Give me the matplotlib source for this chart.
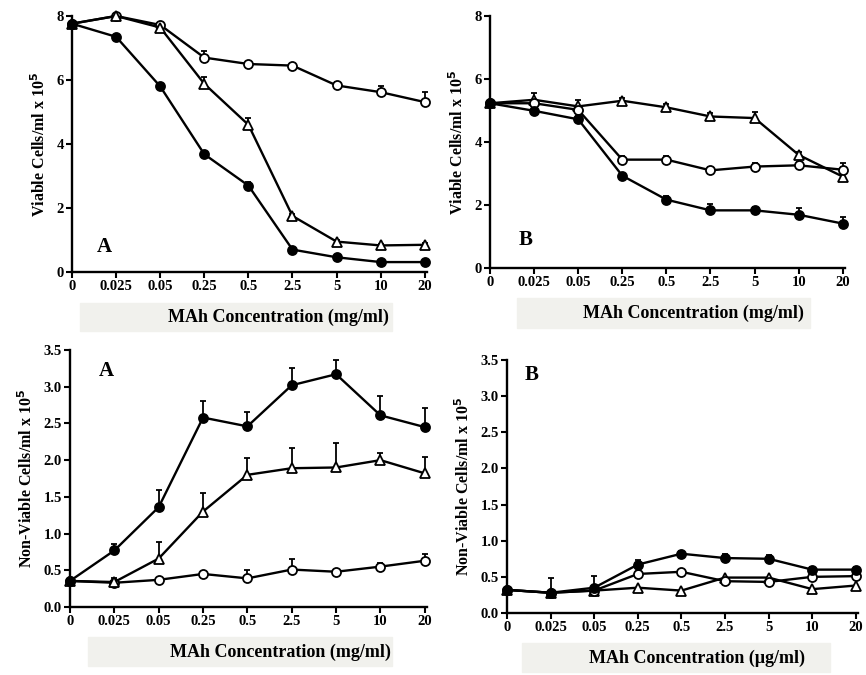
import matplotlib
matplotlib.use("Agg")
import matplotlib.pyplot as plt
from matplotlib.patches import Rectangle

plt.rcParams['font.family'] = ['Liberation Serif', 'DejaVu Serif']
plt.rcParams['font.weight'] = 'bold'

conc_labels = ["0", "0.025", "0.05", "0.25", "0.5", "2.5", "5", "10", "20"]

# A - viable cells
a_viable_filled = [7.76, 7.35, 5.8, 3.68, 2.7, 0.7, 0.46, 0.31, 0.31]
a_viable_circle = [7.76, 8.0, 7.72, 6.7, 6.5, 6.45, 5.83, 5.62, 5.31]
a_viable_tri = [7.76, 8.0, 7.64, 5.88, 4.6, 1.75, 0.95, 0.83, 0.85]
a_viable_filled_err = [0, 0.05, 0.05, 0.1, 0.1, 0.05, 0.05, 0.05, 0.05]
a_viable_circle_err = [0, 0, 0, 0.2, 0.05, 0.05, 0.1, 0.2, 0.3]
a_viable_tri_err = [0, 0, 0.1, 0.2, 0.2, 0.05, 0.05, 0.05, 0.05]

# B - viable cells
b_viable_filled = [5.23, 4.99, 4.72, 2.93, 2.17, 1.83, 1.83, 1.69, 1.41]
b_viable_circle = [5.23, 5.23, 5.02, 3.44, 3.44, 3.1, 3.22, 3.26, 3.12]
b_viable_tri = [5.23, 5.34, 5.13, 5.31, 5.1, 4.81, 4.76, 3.59, 2.9]
b_viable_filled_err = [0, 0.1, 0.1, 0.1, 0.1, 0.2, 0.1, 0.2, 0.2]
b_viable_circle_err = [0, 0.1, 0.1, 0.1, 0.1, 0.1, 0.1, 0.1, 0.2]
b_viable_tri_err = [0, 0.2, 0.2, 0.1, 0.1, 0.1, 0.2, 0.1, 0.3]

# A - non-viable cells
a_dead_filled = [0.355, 0.77, 1.36, 2.58, 2.46, 3.02, 3.17, 2.61, 2.45]
a_dead_tri = [0.355, 0.34, 0.66, 1.3, 1.8, 1.89, 1.9, 2.0, 1.82]
a_dead_circle = [0.355, 0.33, 0.37, 0.45, 0.39, 0.51, 0.48, 0.55, 0.63]
a_dead_filled_err = [0, 0.09, 0.24, 0.23, 0.2, 0.23, 0.2, 0.26, 0.26]
a_dead_tri_err = [0, 0.05, 0.23, 0.25, 0.23, 0.27, 0.33, 0.1, 0.22]
a_dead_circle_err = [0, 0, 0, 0, 0.11, 0.14, 0, 0.05, 0.09]

# B - non-viable cells
b_dead_filled = [0.32, 0.28, 0.35, 0.67, 0.82, 0.76, 0.75, 0.6, 0.6]
b_dead_circle = [0.32, 0.28, 0.31, 0.54, 0.57, 0.44, 0.43, 0.5, 0.51]
b_dead_tri = [0.32, 0.28, 0.31, 0.35, 0.31, 0.49, 0.49, 0.33, 0.38]
b_dead_filled_err = [0, 0.2, 0.16, 0.06, 0.04, 0.05, 0.05, 0.04, 0.04]

W, H = 866, 675
fig = plt.figure(figsize=(W / 100, H / 100), dpi=100)


def add_axes_px(left, right, bottom, top):
    return fig.add_axes([left / W, 1 - bottom / H, (right - left) / W, (bottom - top) / H])


def series(ax, vals, err, marker, face):
    x = list(range(len(vals)))
    ax.plot(x, vals, color='black', lw=1.7, marker=marker, ms=6.5,
            mfc=face, mec='black', mew=1.3, clip_on=False, zorder=3)
    if err is not None:
        lo = [0] * len(vals)
        ax.errorbar(x, vals, yerr=[lo, err], fmt='none', ecolor='black',
                    elinewidth=1.3, capsize=2.5, capthick=1.3, zorder=2, clip_on=False)


def style(ax, ymax, yticks, ylabels, ylabel, letter, lx, ly):
    ax.set_xlim(0, 8.05)
    ax.set_ylim(0, ymax)
    ax.spines['top'].set_visible(False)
    ax.spines['right'].set_visible(False)
    for s in ['left', 'bottom']:
        ax.spines[s].set_linewidth(1.7)
    ax.set_xticks(range(len(conc_labels)))
    ax.set_xticklabels(conc_labels)
    ax.set_yticks(yticks)
    ax.set_yticklabels(ylabels)
    ax.tick_params(length=4, width=1.5, labelsize=10.5, pad=2)
    ax.set_ylabel(ylabel, fontsize=11.5, fontweight='bold', labelpad=5)
    ax.text(lx, ly, letter, transform=ax.transAxes, fontsize=15, fontweight='bold')


def xlabel_box(x0, x1, y0, y1, text, tx, ty):
    fig.patches.append(Rectangle((x0 / W, 1 - y1 / H), (x1 - x0) / W, (y1 - y0) / H,
                                 transform=fig.transFigure, color='#f1f1ed', zorder=0))
    fig.text(tx / W, 1 - ty / H, text, ha='center', va='center',
             fontsize=13, fontweight='bold')


top_ticks = [0, 2, 4, 6, 8]
top_labels = ["0", "2", "4", "6", "8"]
bot_ticks = [0, 0.5, 1.0, 1.5, 2.0, 2.5, 3.0, 3.5]
bot_labels = ["0.0", "0.5", "1.0", "1.5", "2.0", "2.5", "3.0", "3.5"]
viable_lbl = "Viable Cells/ml x 10$^5$"
dead_lbl = "Non-Viable Cells/ml x 10$^5$"

ax1 = add_axes_px(72, 427, 272, 16)
series(ax1, a_viable_circle, a_viable_circle_err, 'o', 'white')
series(ax1, a_viable_tri, a_viable_tri_err, '^', 'white')
series(ax1, a_viable_filled, a_viable_filled_err, 'o', 'black')
style(ax1, 8, top_ticks, top_labels, viable_lbl, "A", 0.07, 0.08)

ax2 = add_axes_px(490, 845, 268, 16)
series(ax2, b_viable_tri, b_viable_tri_err, '^', 'white')
series(ax2, b_viable_circle, b_viable_circle_err, 'o', 'white')
series(ax2, b_viable_filled, b_viable_filled_err, 'o', 'black')
style(ax2, 8, top_ticks, top_labels, viable_lbl, "B", 0.08, 0.09)

ax3 = add_axes_px(70, 427, 607, 350)
series(ax3, a_dead_circle, a_dead_circle_err, 'o', 'white')
series(ax3, a_dead_tri, a_dead_tri_err, '^', 'white')
series(ax3, a_dead_filled, a_dead_filled_err, 'o', 'black')
style(ax3, 3.5, bot_ticks, bot_labels, dead_lbl, "A", 0.08, 0.9)

ax4 = add_axes_px(507, 858, 613, 360)
series(ax4, b_dead_tri, None, '^', 'white')
series(ax4, b_dead_circle, None, 'o', 'white')
series(ax4, b_dead_filled, b_dead_filled_err, 'o', 'black')
style(ax4, 3.5, bot_ticks, bot_labels, dead_lbl, "B", 0.05, 0.92)

xlabel_box(80, 392, 303, 331, "MAh Concentration (mg/ml)", 278, 317)
xlabel_box(517, 810, 298, 328, "MAh Concentration (mg/ml)", 693, 313)
xlabel_box(88, 392, 637, 666, "MAh Concentration (mg/ml)", 280, 652)
xlabel_box(522, 830, 643, 672, "MAh Concentration (\u03bcg/ml)", 697, 658)

fig.savefig("out.png", dpi=100)
